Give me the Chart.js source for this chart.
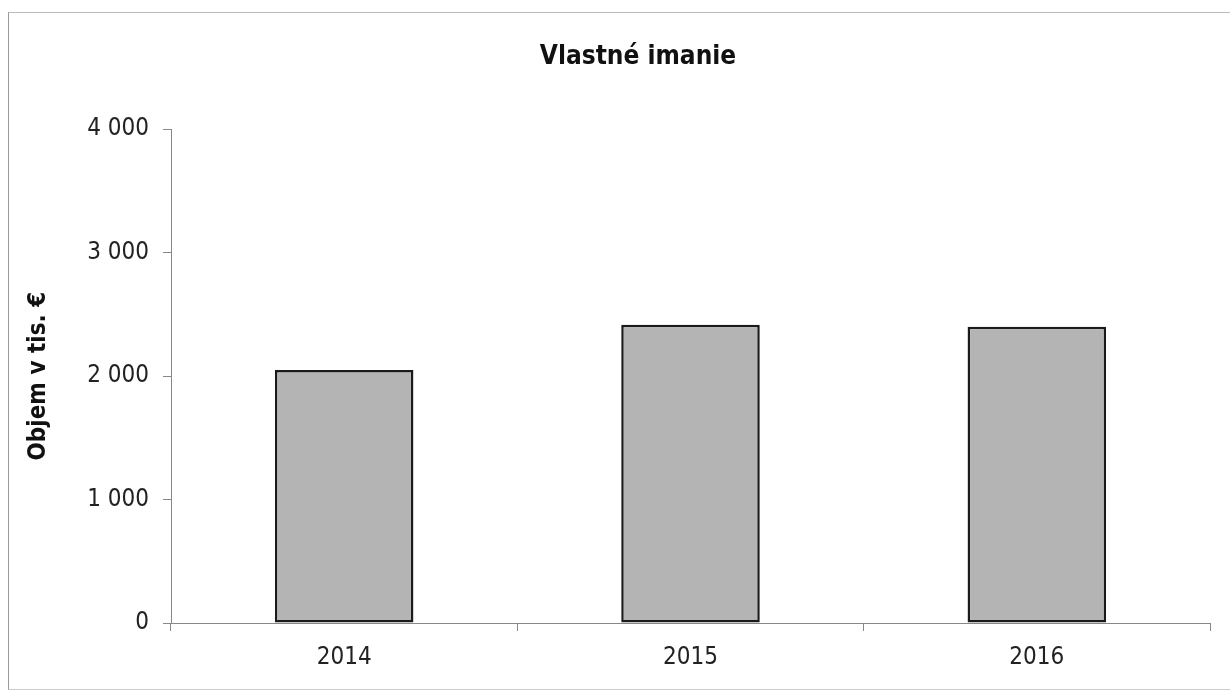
<!DOCTYPE html>
<html>
<head>
<meta charset="utf-8">
<script src="https://cdn.jsdelivr.net/npm/chart.js@4.4.0/dist/chart.umd.min.js"></script>
<style>
  html, body { margin: 0; padding: 0; background: #fff; }
  #wrap { position: relative; width: 1230px; height: 696px; }
  #frame { position: absolute; left: 8px; top: 12px; width: 1230px; height: 678px; border-left: 1px solid #999; border-top: 1px solid #bbb; border-bottom: 1px solid #ccc; box-sizing: border-box; }
  canvas { position: absolute; left: 0; top: 0; }
</style>
</head>
<body>
<div id="wrap">
  <div id="frame"></div>
  <canvas id="chart_equity" width="1230" height="696"></canvas>
</div>
<script>
// hodnoty odčítané z grafu (tis. €)
const years = ['2014', '2015', '2016'];
const equity = [2050, 2415, 2400];
const yTicks = [0, 1000, 2000, 3000, 4000];

const fontFamily = '"DejaVu Sans Condensed", "DejaVu Sans", sans-serif';

function formatThousands(v) {
  return String(v).replace(/\B(?=(\d{3})+(?!\d))/g, ' ');
}

// nadpis je v origináli trochu posunutý doprava
const shiftTitle = {
  id: 'shiftTitle',
  afterLayout(chart) {
    if (chart.titleBlock) {
      chart.titleBlock.left += 33;
      chart.titleBlock.right += 33;
    }
  },
};

new Chart(document.getElementById('chart_equity'), {
  type: 'bar',
  data: {
    labels: years,
    datasets: [{
      label: 'Vlastné imanie',
      data: equity,
      backgroundColor: 'rgb(180, 180, 180)',
      borderColor: '#1a1a1a',
      borderWidth: 2.5,
      borderSkipped: false,
      barPercentage: 0.4,
      categoryPercentage: 1,
    }],
  },
  options: {
    responsive: false,
    animation: false,
    layout: { padding: { left: 0, right: 20, top: 0, bottom: 0 } },
    plugins: {
      legend: { display: false },
      tooltip: { enabled: false },
      title: {
        display: true,
        text: 'Vlastné imanie',
        color: '#111',
        font: { family: fontFamily, size: 26, weight: 'bold' },
        padding: { top: 42, bottom: 56 },
      },
    },
    scales: {
      x: {
        afterFit: (scale) => { scale.height = 73; },
        grid: { drawOnChartArea: false, drawTicks: true, tickLength: 8, color: '#888', offset: true },
        border: { display: true, color: '#888', width: 1 },
        ticks: { color: '#222', font: { family: fontFamily, size: 24 }, padding: 12 },
      },
      y: {
        min: 0,
        max: 4000,
        afterFit: (scale) => { scale.width = 171; },
        afterBuildTicks: (scale) => { scale.ticks = yTicks.map(v => ({ value: v })); },
        grid: { drawOnChartArea: false, drawTicks: true, tickLength: 8, color: '#888' },
        border: { display: true, color: '#888', width: 1 },
        ticks: {
          color: '#222',
          font: { family: fontFamily, size: 24 },
          padding: 14,
          callback: (v) => formatThousands(v),
        },
        title: {
          display: true,
          text: 'Objem v tis. €',
          color: '#111',
          font: { family: fontFamily, size: 24, weight: 'bold' },
          padding: { top: 24, bottom: 0 },
        },
      },
    },
  },
  plugins: [shiftTitle],
});
</script>
</body>
</html>
